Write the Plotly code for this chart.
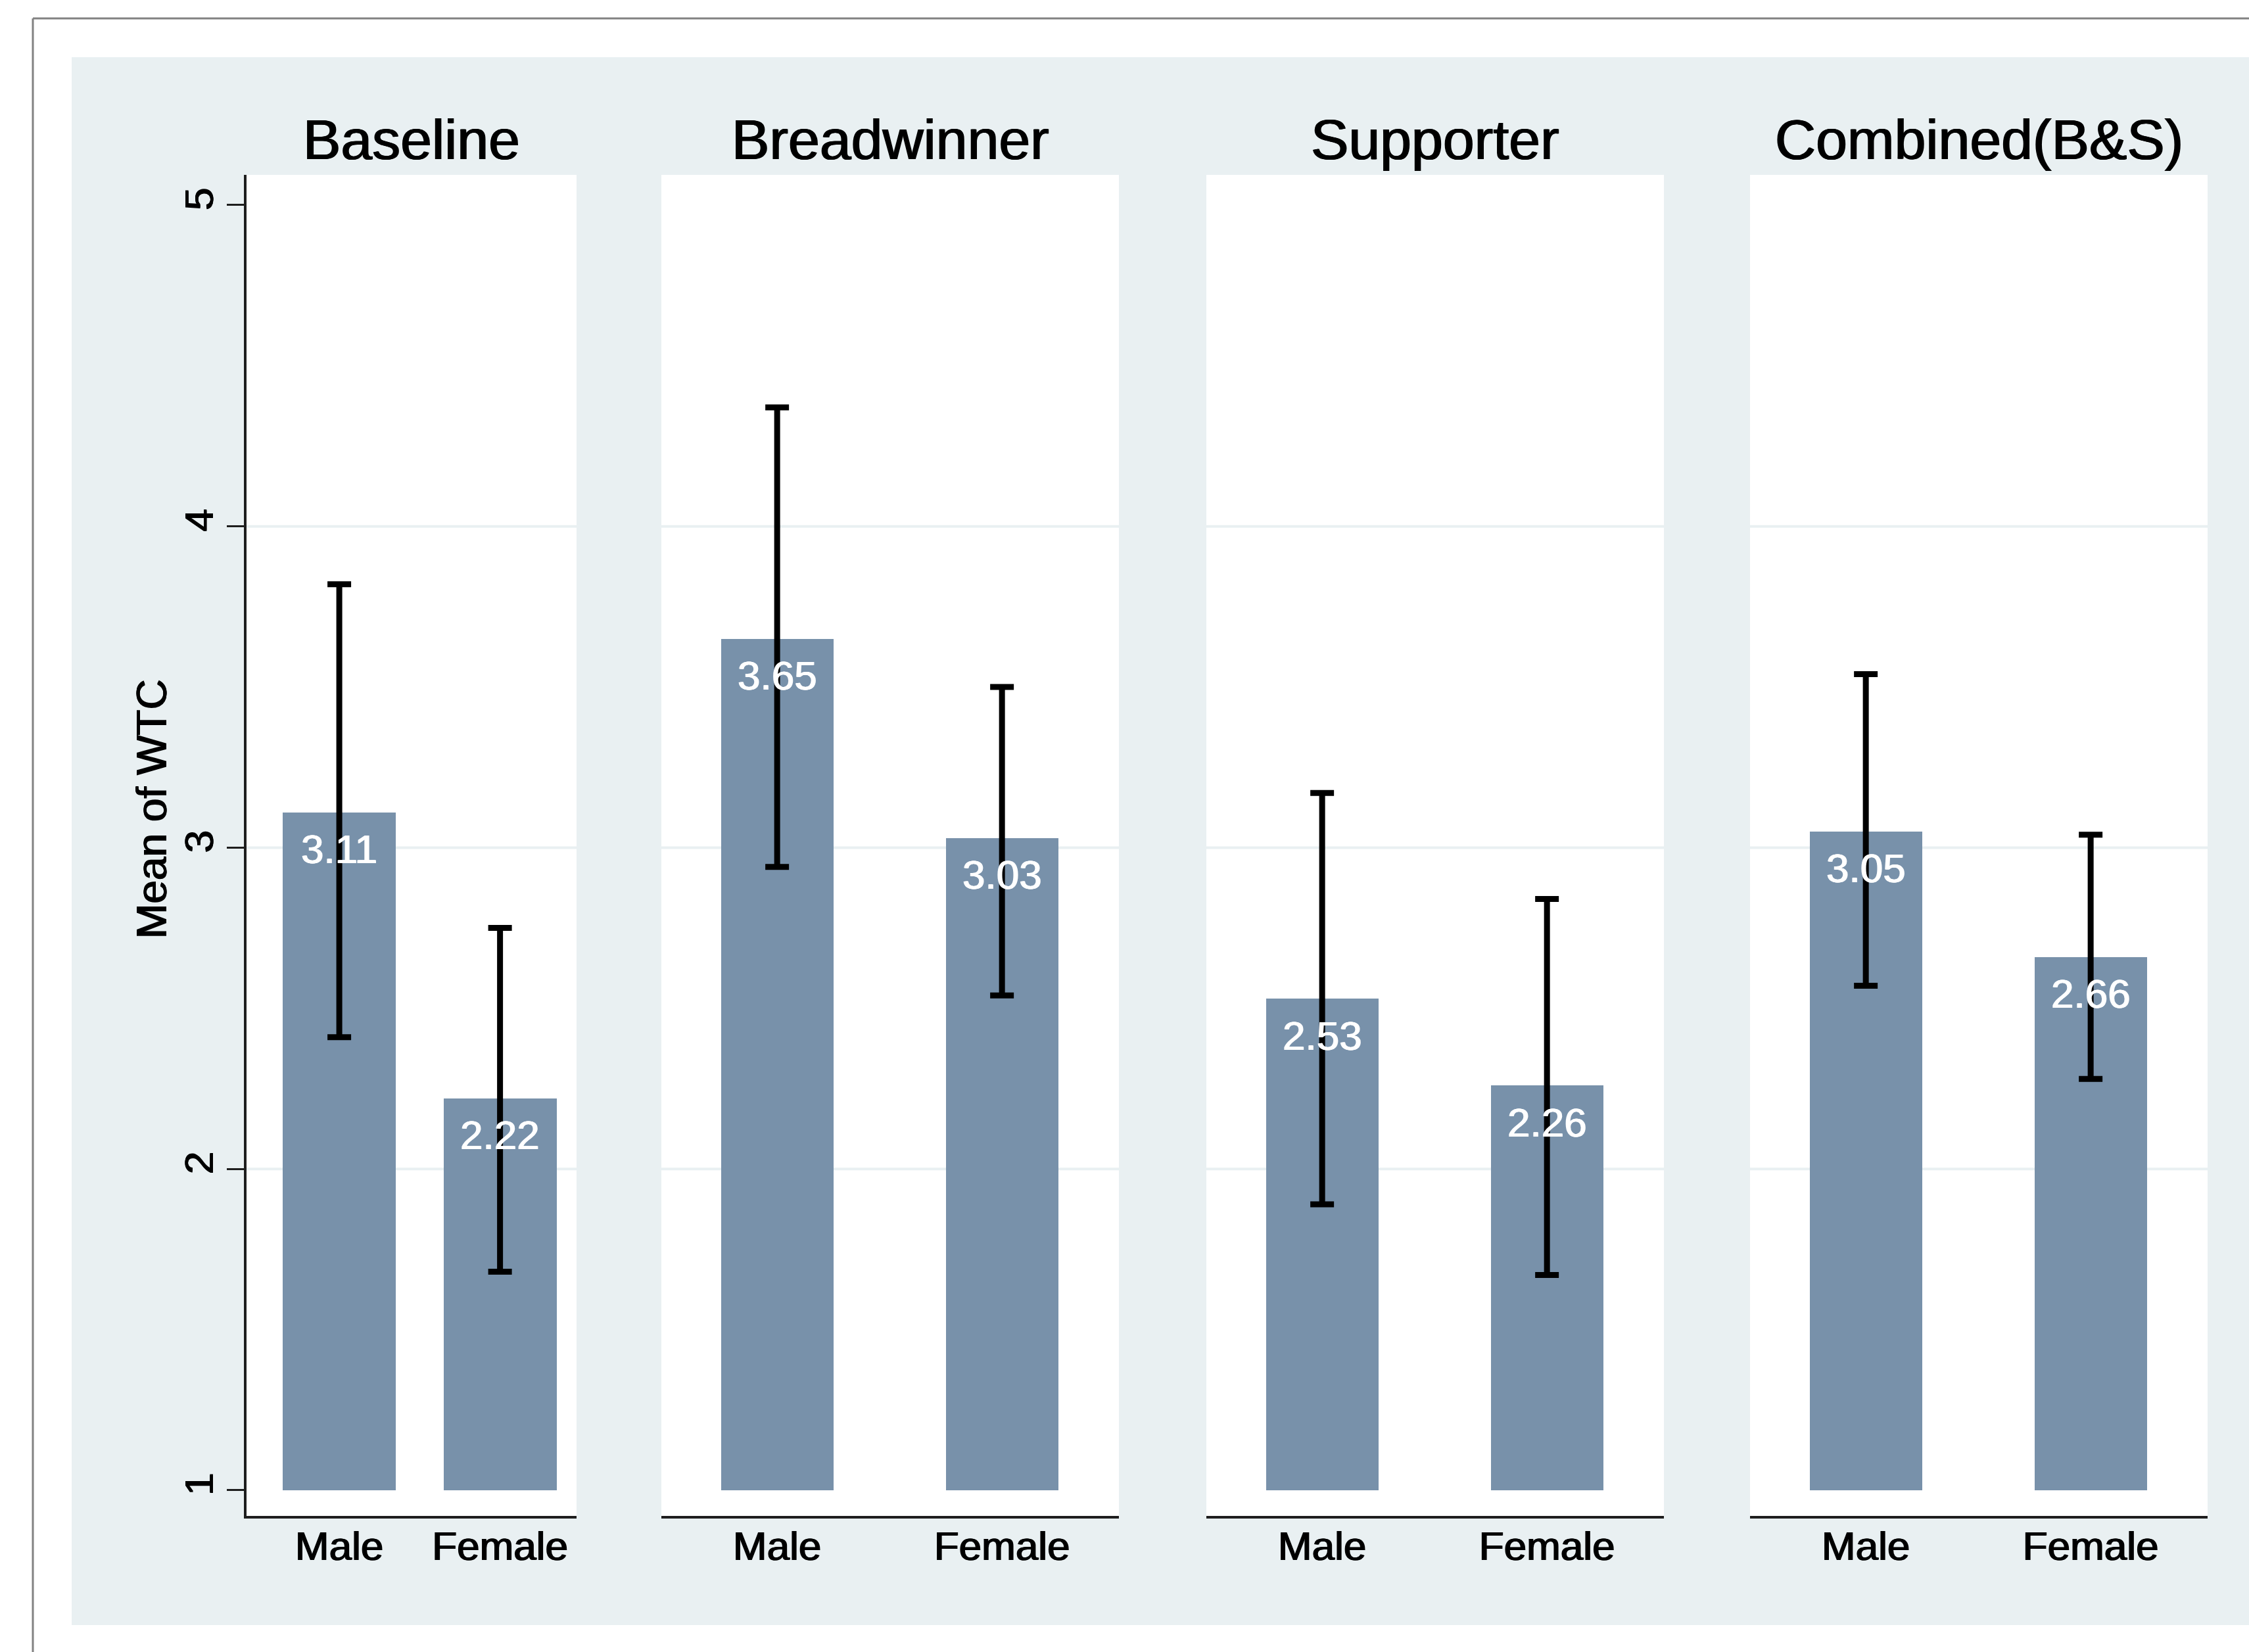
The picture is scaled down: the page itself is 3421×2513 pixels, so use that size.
import plotly.graph_objects as go

# ---- data -------------------------------------------------------------
panel_titles = ["Baseline", "Breadwinner", "Supporter", "Combined(B&S)"]
genders = ["Male", "Female"]

mean_male = [3.11, 3.65, 2.53, 3.05]
mean_female = [2.22, 3.03, 2.26, 2.66]

ci_low_male = [2.41, 2.94, 1.89, 2.57]
ci_high_male = [3.82, 4.37, 3.17, 3.54]
ci_low_female = [1.68, 2.54, 1.67, 2.28]
ci_high_female = [2.75, 3.50, 2.84, 3.04]

y_ticks = [1, 2, 3, 4, 5]
grid_levels = [2, 3, 4]
bar_base = 1

# ---- page geometry (pixels) ------------------------------------------
W, H = 3421, 2513
PANEL_X = [(375, 877), (1006, 1702), (1835, 2531), (2662, 3358)]
PLOT_TOP, PLOT_BOTTOM = 266, 2306
X_RANGES = [(-0.577, 1.476), (-0.515, 1.52), (-0.515, 1.52), (-0.515, 1.52)]
BAR_WIDTHS = [0.703, 0.50, 0.50, 0.50]
Y_RANGE = [0.92, 5.094]

BG = "rgb(233,240,242)"
BAR = "rgb(120,145,170)"
AXIS = "rgb(30,30,30)"
FONT = "Liberation Sans, Arial, Helvetica, sans-serif"
# slight thickening of glyph strokes
DARK_STROKE = "0.9px 0 0 black, -0.9px 0 0 black"
LIGHT_STROKE = "0.8px 0 0 white, -0.8px 0 0 white"


def px_x(p):
    return p / W


def px_y(p):
    return 1 - p / H


def dark_font(size):
    return dict(family=FONT, size=size, color="black", shadow=DARK_STROKE)


fig = go.Figure()
annotations = []
shapes = []

for i, title in enumerate(panel_titles):
    suffix = "" if i == 0 else str(i + 1)
    xref, yref = "x" + suffix, "y" + suffix
    means = [mean_male[i], mean_female[i]]
    lows = [ci_low_male[i], ci_low_female[i]]
    highs = [ci_high_male[i], ci_high_female[i]]

    # bars start at the bottom of the value scale
    fig.add_trace(go.Bar(
        x=genders, y=[m - bar_base for m in means], base=[bar_base] * 2,
        width=BAR_WIDTHS[i], marker=dict(color=BAR, line=dict(width=0)),
        xaxis=xref, yaxis=yref, showlegend=False, hoverinfo="skip",
    ))
    # confidence intervals
    fig.add_trace(go.Scatter(
        x=genders, y=means, mode="markers",
        marker=dict(size=1, color="rgba(0,0,0,0)"),
        error_y=dict(type="data", symmetric=False,
                     array=[h - m for h, m in zip(highs, means)],
                     arrayminus=[m - l for m, l in zip(means, lows)],
                     thickness=9, width=18, color="black"),
        xaxis=xref, yaxis=yref, showlegend=False, hoverinfo="skip",
    ))

    x0, x1 = PANEL_X[i]
    fig.layout["xaxis" + suffix] = dict(
        domain=[px_x(x0), px_x(x1)], anchor=yref, range=list(X_RANGES[i]),
        showline=True, linecolor=AXIS, linewidth=3.5, ticks="",
        ticklabelstandoff=-11,
        showgrid=False, zeroline=False, fixedrange=True,
        tickfont=dark_font(62),
    )
    yax = dict(
        domain=[px_y(PLOT_BOTTOM), px_y(PLOT_TOP)], anchor=xref,
        range=Y_RANGE, showgrid=False, zeroline=False, fixedrange=True,
    )
    if i == 0:
        yax.update(showline=True, linecolor=AXIS, linewidth=3.5,
                   ticks="outside", ticklen=26, tickwidth=3, tickcolor=AXIS,
                   tickvals=y_ticks, tickangle=-90, ticklabelstandoff=-4,
                   tickfont=dark_font(62))
    else:
        yax.update(showline=False, showticklabels=False, ticks="")
    fig.layout["yaxis" + suffix] = yax

    # light horizontal grid
    for g in grid_levels:
        shapes.append(dict(type="line", xref=xref + " domain", yref=yref,
                           x0=0, x1=1, y0=g, y1=g, layer="below",
                           line=dict(color=BG, width=4)))

    # panel title
    annotations.append(dict(
        text=title, xref="paper", yref="paper",
        x=px_x((x0 + x1) / 2), y=px_y(212), xanchor="center", yanchor="middle",
        showarrow=False, font=dark_font(86),
    ))
    # value labels inside the bars
    for g, m in zip(genders, means):
        annotations.append(dict(
            text=f"{m:.2f}", xref=xref, yref=yref, x=g, y=m,
            xanchor="center", yanchor="middle", yshift=-56,
            showarrow=False,
            font=dict(family=FONT, size=62, color="white", shadow=LIGHT_STROKE),
        ))

# y-axis title
annotations.append(dict(
    text="Mean of WTC", xref="paper", yref="paper",
    x=px_x(231), y=px_y(1231), xanchor="center", yanchor="middle",
    textangle=-90, showarrow=False, font=dark_font(64),
))

# white surround outside the graph region, and the outer frame
shapes += [
    dict(type="rect", xref="paper", yref="paper", layer="below",
         x0=0, x1=px_x(109), y0=-0.05, y1=1.05,
         fillcolor="white", line=dict(width=0)),
    dict(type="rect", xref="paper", yref="paper", layer="below",
         x0=0, x1=1.05, y0=px_y(87), y1=1.05,
         fillcolor="white", line=dict(width=0)),
    dict(type="rect", xref="paper", yref="paper", layer="below",
         x0=0, x1=1.05, y0=-0.05, y1=px_y(2472),
         fillcolor="white", line=dict(width=0)),
    dict(type="line", xref="paper", yref="paper",
         x0=px_x(50), x1=1.05, y0=px_y(28), y1=px_y(28),
         line=dict(color="rgb(130,130,130)", width=3)),
    dict(type="line", xref="paper", yref="paper",
         x0=px_x(50), x1=px_x(50), y0=px_y(28), y1=-0.05,
         line=dict(color="rgb(130,130,130)", width=3)),
]

fig.update_layout(
    width=W, height=H, margin=dict(l=0, r=0, t=0, b=0),
    paper_bgcolor=BG, plot_bgcolor="white",
    bargap=0, showlegend=False,
    annotations=annotations, shapes=shapes,
    font=dict(family=FONT, color="black"),
)

fig.write_html("out.html")
